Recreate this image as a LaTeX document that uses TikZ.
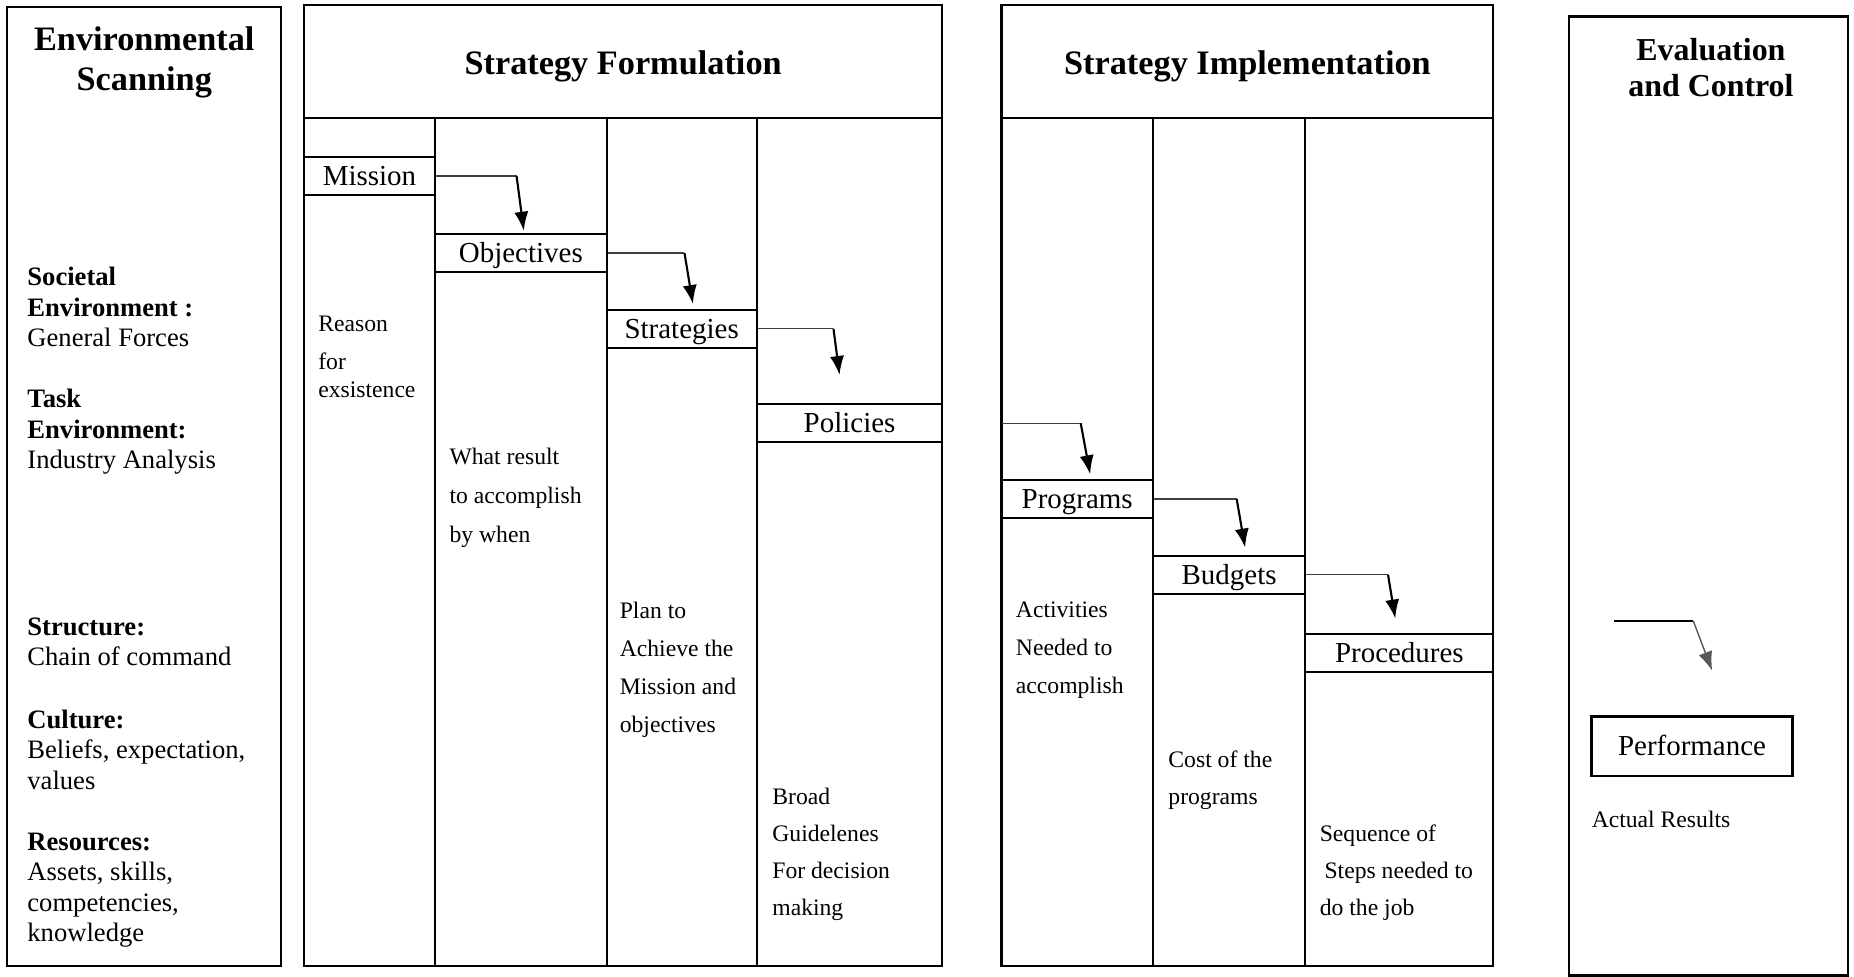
\documentclass[tikz,border=0pt]{standalone}
\usepackage{fontspec}
\setmainfont{Liberation Serif}
\usetikzlibrary{arrows.meta,positioning}
\tikzset{
    frame/.style={draw, line width=1.8pt},
    stage/.style={draw, line width=1.8pt, inner sep=0pt, minimum height=32pt,
            text height=16.5pt, text depth=0.5pt,
            font=\fontsize{24.5}{28}\selectfont},
    heading/.style={align=center, font=\fontsize{29}{34}\selectfont\bfseries},
    note/.style={anchor=north west, align=left, inner sep=0pt,
            font=\fontsize{20}{32}\selectfont},
    scan/.style={anchor=north west, align=left, inner sep=0pt,
            font=\fontsize{22.5}{25.8}\selectfont},
    link/.style={line width=1.2pt, black!75},
    flow/.style={line width=1.8pt, -{Latex[length=16pt,width=12pt]}}
}
\begin{document}
\begin{tikzpicture}[x=1pt, y=-1pt]
            \useasboundingbox (0,0) rectangle (1568,826);
            % the four frames
            \draw[frame] (6,6) rectangle (238,817);
            \draw[frame] (257,4) rectangle (797,817);
            \draw[frame] (257,100) -- (797,100);
            \draw[frame] (847,4) rectangle (1263,817);
            \draw[frame] (847,100) -- (1263,100);
            \draw[frame] (1327,14) rectangle (1563,825);
            \coordinate (implwest) at (847,100);
            % column rules
            \foreach \x in {368,513,640,975,1104}
                \draw[line width=1.6pt] (\x,100) -- (\x,817);
            % headings
            \node[heading] (envhead) at (122,53) {Environmental\\Scanning};
            \node[heading] (formhead) at (527,56) {Strategy Formulation};
            \node[heading] (implhead) at (1055,56) {Strategy Implementation};
            \node[heading, font=\fontsize{27}{30}\selectfont\bfseries] (evalhead) at (1447,57) {Evaluation\\and Control};
            % the stages
            \node[stage, minimum width=111pt] (mission) at (312.5,149) {Mission};
            \node[stage, minimum width=145pt] (objectives) at (440.5,214) {Objectives};
            \node[stage, minimum width=127pt] (strategies) at (576.5,278) {Strategies};
            \node[stage, minimum width=157pt] (policies) at (718.5,358) {Policies};
            \node[stage, minimum width=128pt] (programs) at (911,422) {Programs};
            \node[stage, minimum width=129pt] (budgets) at (1039.5,486) {Budgets};
            \node[stage, minimum width=159pt] (procedures) at (1183.5,552) {Procedures};
            \node[stage, minimum width=170pt, minimum height=50pt] (performance) at (1431,631) {Performance};
            % step down from stage to stage
            \draw[link] (mission.east) -- ++(68,0) coordinate (m1);
            \draw[flow] (m1) -- ([xshift=2.5pt,yshift=2pt]objectives.north);
            \draw[link] (objectives.east) -- ++(65,0) coordinate (o1);
            \draw[flow] (o1) -- ([xshift=9.5pt,yshift=4pt]strategies.north);
            \draw[link] (strategies.east) -- ++(64,0) coordinate (s1);
            \draw[flow] (s1) -- ([xshift=-8.5pt,yshift=24pt]policies.north);
            \draw[link] (policies.east -| implwest) -- ++(67,0) coordinate (p1);
            \draw[flow] (p1) -- ([xshift=11pt,yshift=4pt]programs.north);
            \draw[link] (programs.east) -- ++(70,0) coordinate (g1);
            \draw[flow] (g1) -- ([xshift=13.5pt,yshift=6pt]budgets.north);
            \draw[link] (budgets.east) -- ++(69,0) coordinate (b1);
            \draw[flow] (b1) -- ([xshift=-3.5pt,yshift=12pt]procedures.north);
            \coordinate (e0) at (1365,525);
            \draw[line width=1.6pt] (e0) -- ++(67,0) coordinate (e1);
            \draw[flow, line width=1.2pt, black!65] (e1) -- ([xshift=17pt,yshift=38pt]performance.north);
            % environmental scanning
            \node[scan] (societal) at (23,226) {\textbf{Societal}\\\textbf{Environment :}\\General Forces};
            \node[scan] (task) at (23,329) {\textbf{Task}\\\textbf{Environment:}\\Industry Analysis};
            \node[scan] (structure) at (23,522) {\textbf{Structure:}\\Chain of command};
            \node[scan] (culture) at (23,600) {\textbf{Culture:}\\Beliefs, expectation,\\values};
            \node[scan] (resources) at (23,704) {\textbf{Resources:}\\Assets, skills,\\competencies,\\knowledge};
            % notes under the stages
            \node[note, font=\fontsize{20}{24}\selectfont] (reason) at (269,267) {Reason\\[8pt]for\\exsistence};
            \node[note, font=\fontsize{20}{33}\selectfont] (result) at (380,379) {What result\\to accomplish\\by when};
            \node[note] (plan) at (524,509) {Plan to\\Achieve the\\Mission and\\objectives};
            \node[note, font=\fontsize{20}{31.5}\selectfont] (broad) at (653,666) {Broad\\Guidelenes\\For decision\\making};
            \node[note] (activities) at (859,509) {Activities\\Needed to\\accomplish};
            \node[note, font=\fontsize{20}{31}\selectfont] (cost) at (988,635) {Cost of the\\programs};
            \node[note, font=\fontsize{20}{31.5}\selectfont] (sequence) at (1116,697) {Sequence of\\\hspace*{4pt}Steps needed to\\do the job};
            \node[note] (actual) at (1346,686) {Actual Results};
\end{tikzpicture}
\end{document}
